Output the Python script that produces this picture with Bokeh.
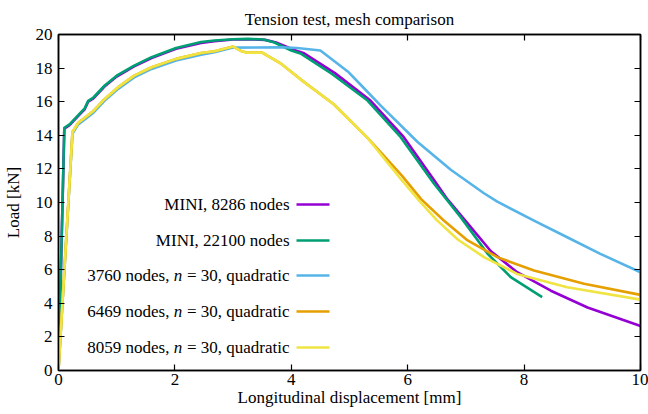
from bokeh.plotting import figure
from bokeh.models import LinearAxis, Label, BoxAnnotation, Range1d, FixedTicker
from bokeh.embed import file_html
from bokeh.resources import INLINE

# ---------------- data ----------------
mini8286_x = [0, 0.1, 0.19, 0.34, 0.45, 0.51, 0.6, 0.79, 1.0, 1.3, 1.6, 2.02, 2.45, 2.68, 3.0, 3.26,
              3.55, 3.74, 4.05, 4.22, 4.75, 5.36, 5.93, 6.5, 6.68, 7.08, 7.43, 7.88, 8.46, 9.09, 10.0]
mini8286_y = [0, 14.4, 14.6, 15.15, 15.55, 16.0, 16.2, 16.9, 17.5, 18.1, 18.6, 19.15, 19.5, 19.6, 19.7, 19.72,
              19.68, 19.52, 19.08, 18.88, 17.7, 16.07, 13.9, 11.1, 10.2, 8.55, 7.1, 5.85, 4.75, 3.75, 2.65]

mini22100_x = [0, 0.1, 0.19, 0.34, 0.45, 0.51, 0.6, 0.79, 1.0, 1.3, 1.6, 2.02, 2.45, 2.68, 3.0, 3.26,
               3.52, 3.7, 4.0, 4.17, 4.7, 5.31, 5.88, 6.45, 6.91, 7.37, 7.77, 8.31]
mini22100_y = [0, 14.45, 14.65, 15.2, 15.6, 16.05, 16.25, 16.95, 17.55, 18.15, 18.65, 19.2, 19.55, 19.64, 19.72, 19.74,
               19.7, 19.54, 19.05, 18.85, 17.65, 16.07, 13.89, 11.13, 9.13, 6.96, 5.56, 4.37]

q3760_x = [0, 0.24, 0.34, 0.6, 0.79, 1.02, 1.3, 1.6, 2.02, 2.45, 2.68, 3.0, 3.84, 4.1, 4.5, 4.97,
           5.25, 5.54, 6.17, 6.74, 7.31, 7.54, 8.17, 8.74, 9.31, 10.0]
q3760_y = [0, 14.1, 14.65, 15.35, 16.05, 16.75, 17.45, 17.95, 18.45, 18.8, 18.95, 19.22, 19.24, 19.2, 19.05, 17.8,
           16.8, 15.75, 13.6, 11.95, 10.55, 10.05, 8.92, 7.93, 6.94, 5.85]

q6469_x = [0, 0.24, 0.34, 0.6, 0.79, 1.02, 1.3, 1.6, 2.02, 2.45, 2.68, 3.0, 3.15, 3.25, 3.5, 3.83,
           4.17, 4.73, 5.31, 5.6, 5.9, 6.23, 6.62, 7.03, 7.54, 8.17, 9.03, 10.0]
q6469_y = [0, 14.2, 14.75, 15.45, 16.15, 16.85, 17.55, 18.05, 18.55, 18.9, 19.0, 19.28, 19.0, 18.92, 18.92, 18.25,
           17.3, 15.85, 13.85, 12.75, 11.6, 10.2, 8.93, 7.74, 6.75, 5.95, 5.16, 4.5]

q8059_x = [0, 0.24, 0.34, 0.6, 0.79, 1.02, 1.3, 1.6, 2.02, 2.45, 2.68, 3.0, 3.15, 3.25, 3.5, 3.83,
           4.17, 4.73, 5.31, 5.88, 6.2, 6.5, 6.86, 7.31, 7.88, 8.74, 10.0]
q8059_y = [0, 14.2, 14.75, 15.45, 16.15, 16.85, 17.55, 18.05, 18.55, 18.9, 19.0, 19.28, 19.0, 18.92, 18.92, 18.25,
           17.3, 15.85, 13.85, 11.4, 10.1, 8.95, 7.8, 6.75, 5.75, 4.95, 4.22]

series_labels = ["MINI, 8286 nodes", "MINI, 22100 nodes",
                 "3760 nodes, n = 30, quadratic", "6469 nodes, n = 30, quadratic",
                 "8059 nodes, n = 30, quadratic"]
series_colors = ["#9400d3", "#009e73", "#56b4e9", "#e69f00", "#f0e442"]
x_ticks = [0, 2, 4, 6, 8, 10]
y_ticks = [0, 2, 4, 6, 8, 10, 12, 14, 16, 18, 20]

FONT = "Liberation Serif"
FS = 17

p = figure(width=648, height=414, x_range=Range1d(0, 10), y_range=Range1d(0, 20),
           output_backend="svg", toolbar_location=None,
           min_border_left=57, min_border_right=8, min_border_top=34, min_border_bottom=44,
           title="Tension test, mesh comparison")
p.title.align = "center"
p.title.text_font = FONT
p.title.text_font_size = f"{FS}px"
p.title.text_font_style = "normal"
p.title.text_color = "black"
p.title.standoff = 12

p.xgrid.visible = False
p.ygrid.visible = False
p.outline_line_color = "black"
p.outline_line_width = 1.5
p.background_fill_color = "white"
p.border_fill_color = "white"


def style_axis(ax, ticks, show_labels):
    ax.ticker = FixedTicker(ticks=ticks)
    ax.minor_tick_line_color = None
    ax.major_tick_in = 6
    ax.major_tick_out = 0
    ax.major_tick_line_color = "black"
    ax.major_tick_line_width = 1.2
    ax.axis_line_color = "black"
    ax.axis_line_width = 1.5
    ax.major_label_text_font = FONT
    ax.major_label_text_color = "black"
    ax.major_label_text_font_size = f"{FS}px"
    if not show_labels:
        ax.major_label_overrides = {t: "" for t in ticks}
        ax.major_label_standoff = 0


style_axis(p.xaxis[0], x_ticks, True)
style_axis(p.yaxis[0], y_ticks, True)
p.xaxis[0].major_label_standoff = 3
p.yaxis[0].major_label_standoff = 6
p.xaxis[0].axis_label = "Longitudinal displacement [mm]"
p.yaxis[0].axis_label = "Load [kN]"
for ax in (p.xaxis[0], p.yaxis[0]):
    ax.axis_label_text_font = FONT
    ax.axis_label_text_font_size = f"{FS}px"
    ax.axis_label_text_font_style = "normal"
    ax.axis_label_text_color = "black"
p.xaxis[0].axis_label_standoff = 0
p.yaxis[0].axis_label_standoff = 10

top_ax = LinearAxis()
style_axis(top_ax, x_ticks, False)
p.add_layout(top_ax, "above")
right_ax = LinearAxis()
style_axis(right_ax, y_ticks, False)
p.add_layout(right_ax, "right")

series = [(mini8286_x, mini8286_y), (mini22100_x, mini22100_y), (q3760_x, q3760_y),
          (q6469_x, q6469_y), (q8059_x, q8059_y)]
for (xs, ys), c in zip(series, series_colors):
    p.line(xs, ys, line_color=c, line_width=2.6, line_join="round")

# ---------------- key (label on the left, sample line on the right) ----------------
key_text_right = 231      # px from frame left
key_line_left, key_line_right = 238, 271
key_rows = [166, 130, 95, 59, 23]   # px from frame bottom


def add_label(x, y, text, style="normal"):
    p.add_layout(Label(x=x, y=y, x_units="screen", y_units="screen", text=text,
                       text_align="right", text_baseline="middle",
                       text_font=FONT, text_font_size=f"{FS}px",
                       text_font_style=style, text_color="black"))


for lab, c, ry in zip(series_labels, series_colors, key_rows):
    if " n = " in lab:
        prefix, rest = lab.split(" n ")
        suffix = rest.strip()           # "= 30, quadratic"
        w_suffix = 6.035 * FS
        gap_math = 0.28 * FS
        w_n = 0.5 * FS
        gap = 0.25 * FS
        add_label(key_text_right, ry, suffix)
        n_right = key_text_right - w_suffix - gap_math
        add_label(n_right, ry, "n", "italic")
        add_label(n_right - w_n - gap, ry, prefix)
    else:
        add_label(key_text_right, ry, lab)
    p.add_layout(BoxAnnotation(left=key_line_left, right=key_line_right, bottom=ry - 1.3, top=ry + 1.3,
                               left_units="screen", right_units="screen",
                               bottom_units="screen", top_units="screen",
                               fill_color=c, fill_alpha=1.0, line_color=None, level="overlay"))

open("out.html", "w").write(file_html(p, INLINE))
